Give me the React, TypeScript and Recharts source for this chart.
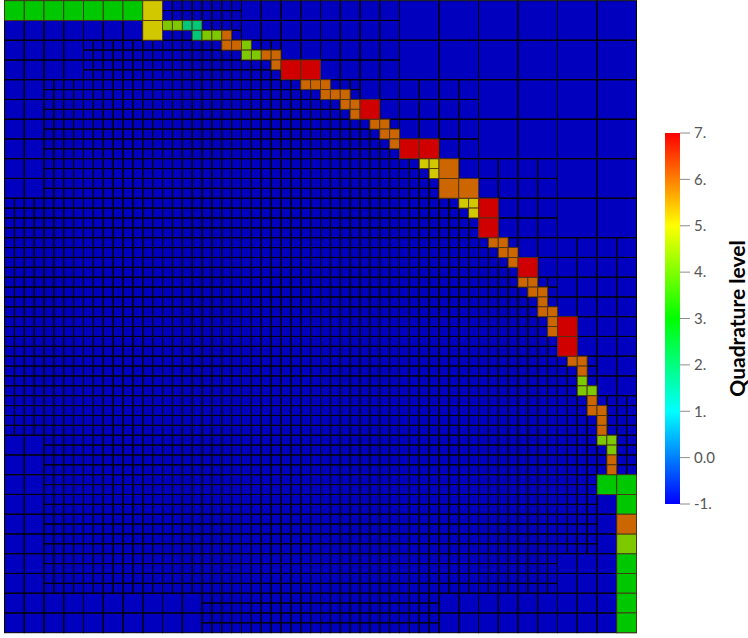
import { Bar, BarChart, Scatter, ScatterChart, XAxis, YAxis } from "recharts";

// mesh is 32 coarse cells a side, 64 fine units a side
const FINE_UNITS = 64;
const PLOT_SIZE = 632;
const UNIT = PLOT_SIZE / FINE_UNITS;

// refined (fine) column span per coarse row: [first col, end col)
const refinedSpans = [
  [8, 12], [8, 12], [4, 14], [4, 14], [2, 18], [2, 18], [2, 20], [2, 20],
  [2, 22], [2, 22], [0, 24], [0, 24], [0, 26], [0, 26], [0, 28], [0, 28],
  [0, 28], [0, 28], [0, 30], [0, 30], [0, 32], [0, 32], [2, 32], [2, 32],
  [2, 30], [2, 30], [2, 30], [2, 30], [2, 28], [2, 28], [10, 22], [10, 22],
];

// first column of the double size blocks, per pair of coarse rows (row 0, 2, 4 ...)
const blockStarts = [20, 20, 24, 24, 28, 28];

// [fine col, fine row, side in fine units]
const level2Cells = [[18, 2, 1], [19, 2, 1], [19, 3, 1]];
const level3Cells = [
  [0, 0, 2], [2, 0, 2], [4, 0, 2], [6, 0, 2], [8, 0, 2], [10, 0, 2], [12, 0, 2],
  [60, 48, 2], [62, 48, 2], [62, 50, 2], [62, 56, 2], [62, 58, 2], [62, 60, 2], [62, 62, 2],
];
const level4Cells = [
  [16, 2, 1], [17, 2, 1], [20, 3, 1], [21, 3, 1], [24, 4, 1], [24, 5, 1], [25, 5, 1],
  [58, 38, 1], [58, 39, 1], [59, 39, 1], [60, 44, 1], [61, 44, 1], [61, 45, 1], [62, 54, 2],
];
const level5Cells = [
  [14, 0, 2], [14, 2, 2], [42, 16, 1], [43, 16, 1], [43, 17, 1], [46, 20, 1], [47, 20, 1], [47, 21, 1],
];
const level6Cells = [
  [22, 3, 1], [22, 4, 1], [23, 4, 1], [26, 5, 1], [27, 5, 1], [27, 6, 1], [30, 8, 1], [31, 8, 1],
  [32, 8, 1], [32, 9, 1], [33, 9, 1], [34, 9, 1], [34, 10, 1], [35, 10, 1], [35, 11, 1],
  [37, 12, 1], [38, 12, 1], [38, 13, 1], [39, 13, 1], [39, 14, 1], [44, 16, 2], [44, 18, 2], [46, 18, 2],
  [49, 24, 1], [50, 24, 1], [50, 25, 1], [51, 25, 1], [51, 26, 1], [52, 28, 1], [53, 28, 1],
  [53, 29, 1], [54, 29, 1], [54, 30, 1], [54, 31, 1], [55, 31, 1], [55, 32, 1], [55, 33, 1],
  [57, 36, 1], [58, 36, 1], [58, 37, 1], [59, 40, 1], [59, 41, 1], [60, 41, 1], [60, 42, 1],
  [60, 43, 1], [61, 46, 1], [61, 47, 1], [62, 52, 2],
];
const level7Cells = [
  [28, 6, 2], [30, 6, 2], [36, 10, 2], [40, 14, 2], [42, 14, 2], [48, 20, 2], [48, 22, 2],
  [52, 26, 2], [56, 32, 2], [56, 34, 2],
];

const levelColors = {
  bg: "#0000be",
  2: "#00c878",
  3: "#00c800",
  4: "#7ec800",
  5: "#d2c800",
  6: "#cc6600",
  7: "#d00000",
};

const scaleTicks = [-1, 0, 1, 2, 3, 4, 5, 6, 7];
const scaleData = [{ name: "level", range: [-1, 7] }];

type MeshCell = { x: number; y: number; side: number; fill: string };

const toCell = (col: number, row: number, side: number, fill: string): MeshCell => ({
  x: col + side / 2,
  y: row + side / 2,
  side,
  fill,
});

// the blue cells only carry outlines, the fill comes from one base square under them
const buildOutlines = () => {
  const cells: MeshCell[] = [];
  refinedSpans.forEach(([start, end], row) => {
    for (let col = 0; col < 32; col++) {
      if (col >= start && col < end) {
        [0, 1].forEach((i) =>
          [0, 1].forEach((j) => cells.push(toCell(col * 2 + i, row * 2 + j, 1, "none"))),
        );
        continue;
      }
      const blockStart = row < 12 ? blockStarts[Math.floor(row / 2)] : 99;
      if (col >= blockStart) {
        if ((col - blockStart) % 2 === 0 && row % 2 === 0) {
          cells.push(toCell(col * 2, row * 2, 4, "none"));
        }
        continue;
      }
      cells.push(toCell(col * 2, row * 2, 2, "none"));
    }
  });
  return cells;
};

const groupCells = (list: number[][], fill: string) =>
  list.map(([col, row, side]) => toCell(col, row, side, fill));

const baseCells = [toCell(0, 0, FINE_UNITS, levelColors.bg)];
const outlineCells = buildOutlines();
const hotCells = [
  ...groupCells(level2Cells, levelColors[2]),
  ...groupCells(level3Cells, levelColors[3]),
  ...groupCells(level4Cells, levelColors[4]),
  ...groupCells(level5Cells, levelColors[5]),
  ...groupCells(level6Cells, levelColors[6]),
  ...groupCells(level7Cells, levelColors[7]),
];

const makeShape = (stroke: string, strokeWidth: number) => (props: any) => {
  const { cx, cy, payload } = props;
  const px = payload.side * UNIT;
  return (
    <rect
      x={cx - px / 2}
      y={cy - px / 2}
      width={px}
      height={px}
      fill={payload.fill}
      stroke={stroke}
      strokeWidth={strokeWidth}
    />
  );
};

const scaleTickLabel = (v: number) => (v === 0 ? "0.0" : `${v}.`);

const App = () => {
  return (
    <div style={{ position: "absolute", left: 0, top: 0, width: 748, height: 638, overflow: "hidden", background: "#fff" }}>
      <div style={{ position: "absolute", left: 0, top: 0 }}>
        <ScatterChart
          width={748}
          height={638}
          margin={{ top: 0.7, left: 4.5, right: 111.5, bottom: 5.3 }}
        >
          <XAxis type="number" dataKey="x" domain={[0, FINE_UNITS]} hide />
          <YAxis type="number" dataKey="y" domain={[0, FINE_UNITS]} reversed hide />
          <Scatter data={baseCells} shape={makeShape("none", 0)} isAnimationActive={false} />
          <Scatter data={outlineCells} shape={makeShape("#000000", 1)} isAnimationActive={false} />
          <Scatter data={hotCells} shape={makeShape("#4a3418", 0.9)} isAnimationActive={false} />
        </ScatterChart>
      </div>
      <div style={{ position: "absolute", left: 655, top: 113 }}>
        <BarChart
          width={93}
          height={411}
          data={scaleData}
          barCategoryGap={0}
          margin={{ top: 20, left: 10, right: 0, bottom: 20 }}
        >
          <defs>
            <linearGradient id="rainbow" x1="0" y1="0" x2="0" y2="1">
              <stop offset="0" stopColor="#ff0000" />
              <stop offset="0.25" stopColor="#ffff00" />
              <stop offset="0.5" stopColor="#00ff00" />
              <stop offset="0.75" stopColor="#00ffff" />
              <stop offset="1" stopColor="#0000ff" />
            </linearGradient>
          </defs>
          <XAxis dataKey="name" hide />
          <YAxis
            orientation="right"
            type="number"
            width={68}
            domain={[-1, 7]}
            ticks={scaleTicks}
            tickFormatter={scaleTickLabel}
            axisLine={false}
            tickLine={{ stroke: "#8c8c8c", strokeWidth: 1 }}
            tickSize={10}
            tickMargin={4}
            interval={0}
            tick={{ fontSize: 15, fill: "#555555", fontFamily: "Lato" }}
            label={{
              value: "Quadrature level",
              angle: -90,
              position: "insideRight",
              offset: 10,
              style: { fontSize: 21, fontWeight: 700, fill: "#000000", fontFamily: "Lato", textAnchor: "middle" },
            }}
          />
          <Bar dataKey="range" fill="url(#rainbow)" isAnimationActive={false} />
        </BarChart>
      </div>
    </div>
  );
};

export default App;
